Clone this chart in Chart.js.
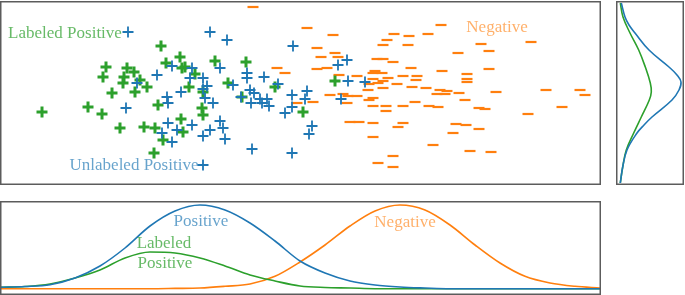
<!DOCTYPE html>
<html>
<head>
<meta charset="utf-8">
<script src="https://cdn.jsdelivr.net/npm/chart.js@4"></script>
<style>
  body { margin: 0; background: #fff; }
  #wrap { position: relative; width: 685px; height: 295px; overflow: hidden; }
  canvas { position: absolute; }
  .lbl { position: absolute; font-family: "Liberation Serif", serif; font-size: 17px; line-height: 1; white-space: nowrap; transform: translate(-50%, -50%); }
</style>
</head>
<body>
<div id="wrap">
  <canvas id="main" style="left:0;top:1px" width="601" height="184"></canvas>
  <canvas id="bottom" style="left:0;top:201px" width="601" height="94"></canvas>
  <canvas id="side" style="left:616px;top:1px" width="68" height="184"></canvas>

  <div class="lbl" style="left:65px;top:32px;color:rgba(44,160,44,0.72)">Labeled Positive</div>
  <div class="lbl" style="left:134px;top:164px;color:rgba(31,119,180,0.68)">Unlabeled Positive</div>
  <div class="lbl" style="left:497px;top:26px;color:rgba(255,127,14,0.62)">Negative</div>
  <div class="lbl" style="left:201px;top:220px;color:rgba(31,119,180,0.68)">Positive</div>
  <div class="lbl" style="left:164px;top:242px;color:rgba(44,160,44,0.72)">Labeled</div>
  <div class="lbl" style="left:165px;top:262px;color:rgba(44,160,44,0.72)">Positive</div>
  <div class="lbl" style="left:405px;top:221px;color:rgba(255,127,14,0.62)">Negative</div>
</div>

<script>
// scatter points: [feature 1, feature 2]
const labeledPos = [
  [42,73],[106,118],[103,108],[127,117],[134,113],[124,108],[123,102],[140,105],
  [135,93],[112,92],[147,98],[88,78],[102,71],[120,57],[144,58],[161,139],
  [180,128],[166,122],[182,117],[185,118],[195,111],[215,124],[246,123],[228,102],
  [189,98],[203,93],[158,80],[202,77],[203,70],[181,66],[155,57],[183,53],
  [163,45],[154,32],[275,98],[242,88],[335,104],[303,73]
];
const unlabeledPos = [
  [128,153],[126,77],[137,102],[210,153],[227,145],[293,139],[172,119],[192,117],
  [220,117],[157,110],[190,107],[203,107],[207,99],[247,112],[247,107],[264,108],
  [233,100],[181,93],[203,96],[250,95],[254,92],[167,88],[168,82],[205,87],
  [213,82],[241,88],[251,82],[260,86],[267,86],[262,82],[269,79],[278,101],
  [292,90],[292,78],[285,72],[168,62],[192,60],[177,55],[162,52],[172,43],
  [210,55],[220,64],[223,57],[203,49],[225,46],[252,36],[292,32],[203,20],
  [307,94],[305,86],[347,125],[338,120],[348,104],[365,103],[341,86],[312,59],
  [309,51]
];
const negative = [
  [253,178],[277,117],[285,112],[297,82],[307,157],[333,150],[317,137],[321,128],
  [335,132],[338,128],[317,116],[327,117],[394,151],[387,145],[409,149],[383,140],
  [408,140],[428,151],[441,160],[377,126],[383,126],[393,123],[375,114],[373,112],
  [382,112],[357,109],[373,106],[383,104],[388,107],[369,101],[378,102],[383,97],
  [368,95],[397,101],[403,109],[411,117],[417,109],[416,105],[412,98],[426,97],
  [440,95],[442,114],[447,94],[437,91],[445,91],[330,90],[343,91],[348,89],
  [357,89],[347,82],[313,83],[373,87],[369,85],[373,79],[386,79],[386,74],
  [403,79],[415,83],[429,79],[438,78],[350,63],[359,63],[373,62],[403,62],
  [398,58],[373,48],[433,40],[393,29],[378,22],[393,18],[339,110],[481,141],
  [489,134],[458,132],[531,143],[489,116],[467,111],[467,106],[467,103],[459,92],
  [496,93],[546,95],[580,95],[585,90],[465,85],[479,77],[485,76],[562,78],
  [528,71],[456,61],[466,60],[453,52],[479,56],[470,34],[491,33]
];

// densities along feature 1 (bottom panel)
const densX = [0,25,50,75,100,125,150,175,200,225,250,275,300,325,350,375,400,425,450,475,500,525,550,575,600];
const densPos = [1.7,2.5,4.3,11,23,41,63,78,84,79,66,48,28,16,8,4,2,1,0.3,0.3,0.3,0.3,0.3,0.3,0.3];
const densLab = [1.7,2.5,5,11,19,31,37,36,31,23,14,8,3,1.5,1,0.3,0.3,0.3,0.3,0.3,0.3,0.3,0.3,0.3,0.3];
const densNeg = [0.3,0.3,0.3,0.3,0.3,0.3,0.3,0.6,1,2.7,5,12.7,27,44,63,78,84,79,64,44,26,12.7,6,2.7,1];

// densities along feature 2 (side panel)
const sideYPos = [182,168,160,152,135,118,110,103,95,85,68,60,52,35,18,2];
const sidePos = [1.3,5,9,15,29,49,57,61,59,52,32,24,17,7,2.7,0.3];
const sideYLab = [182,168,152,135,118,102,93,85,68,52,35,18,2];
const sideLab = [0.3,3,10,18.7,25.3,30.3,31.3,29.3,21.3,13.7,6.3,2.7,0.3];

const BLUE = '#1f77b4', ORANGE = '#ff7f0e', GREEN = '#2ca02c';

// draws the box around each panel
const framePlugin = {
  id: 'frame',
  afterDraw(chart) {
    const { ctx, chartArea: a } = chart;
    ctx.save();
    ctx.strokeStyle = '#5c5c5c';
    ctx.lineWidth = 1.5;
    ctx.strokeRect(a.left + 0.75, a.top + 0.75, a.right - a.left - 1.5, a.bottom - a.top - 1.5);
    ctx.restore();
  }
};

function baseOptions(xr, yr) {
  return {
    responsive: false,
    animation: false,
    layout: { padding: 0, autoPadding: false },
    plugins: { legend: { display: false }, tooltip: { enabled: false } },
    scales: {
      x: { type: 'linear', display: false, min: xr[0], max: xr[1] },
      y: { type: 'linear', display: false, min: yr[0], max: yr[1] }
    }
  };
}

const toXY = arr => arr.map(p => ({ x: p[0], y: p[1] }));

new Chart(document.getElementById('main'), {
  type: 'scatter',
  data: {
    datasets: [
      { data: toXY(unlabeledPos), pointStyle: 'cross', pointRadius: 5.5, borderColor: BLUE, borderWidth: 1.8 },
      { data: toXY(labeledPos), pointStyle: 'cross', pointRadius: 5.5, borderColor: GREEN, borderWidth: 3 },
      { data: toXY(negative), pointStyle: 'line', pointRadius: 5.5, borderColor: ORANGE, borderWidth: 2.2 }
    ]
  },
  options: baseOptions([0, 601], [0, 184]),
  plugins: [framePlugin]
});

const curve = (xs, ys, color) => ({
  data: xs.map((x, i) => ({ x: x, y: ys[i] })),
  showLine: true, borderColor: color, borderWidth: 1.6, pointRadius: 0, fill: false
});

new Chart(document.getElementById('bottom'), {
  type: 'scatter',
  data: {
    datasets: [
      Object.assign(curve(densX, densPos, BLUE), { cubicInterpolationMode: 'monotone' }),
      Object.assign(curve(densX, densLab, GREEN), { cubicInterpolationMode: 'monotone' }),
      Object.assign(curve(densX, densNeg, ORANGE), { cubicInterpolationMode: 'monotone' })
    ]
  },
  options: baseOptions([0, 601], [-6, 88]),
  plugins: [framePlugin]
});

new Chart(document.getElementById('side'), {
  type: 'scatter',
  data: {
    datasets: [
      Object.assign(curve(sidePos, sideYPos, BLUE), { tension: 0.4 }),
      Object.assign(curve(sideLab, sideYLab, GREEN), { tension: 0.4 })
    ]
  },
  options: baseOptions([-4, 64], [0, 184]),
  plugins: [framePlugin]
});
</script>
</body>
</html>
